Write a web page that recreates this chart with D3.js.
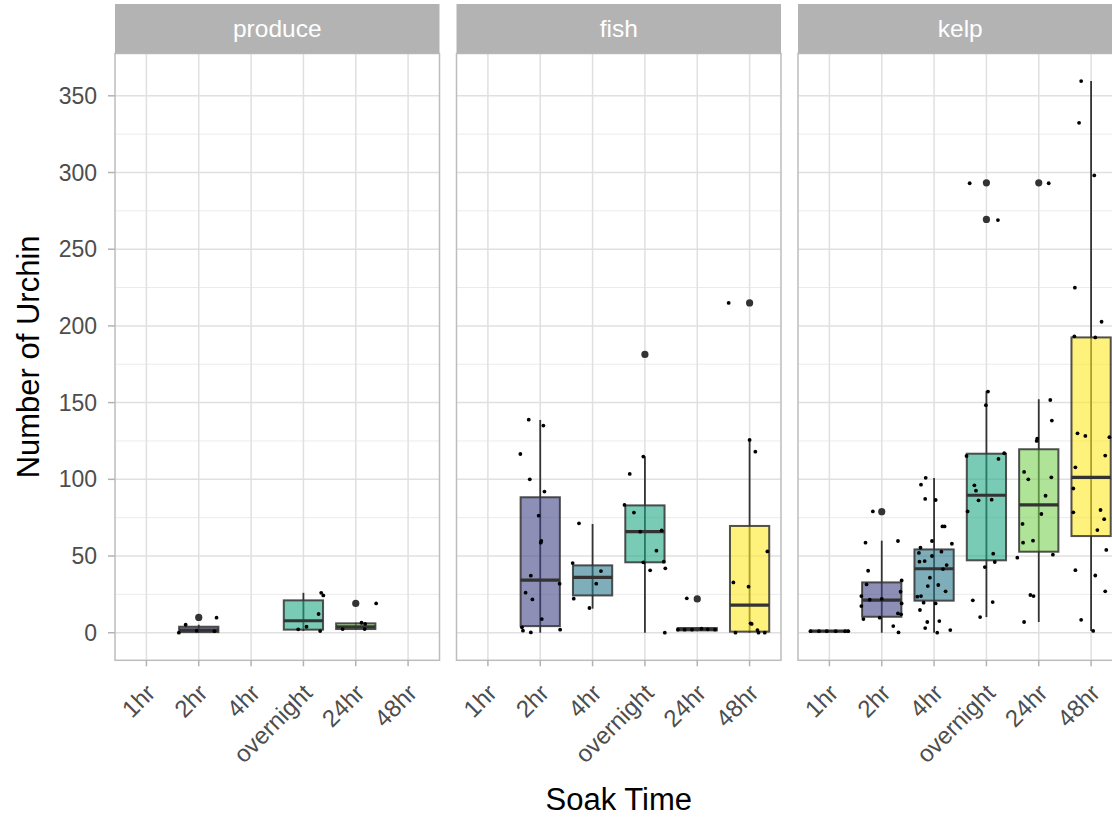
<!DOCTYPE html>
<html>
<head>
<meta charset="utf-8">
<script src="https://cdn.jsdelivr.net/npm/d3@7"></script>
<style>
  html, body { margin: 0; padding: 0; background: #fff; }
  svg { display: block; font-family: "Liberation Sans", Arial, sans-serif; }
</style>
</head>
<body>
<svg id="chart" width="1112" height="818"></svg>
<script>
// Facets and soak-time categories
const baits = ["produce", "fish", "kelp"];
const soakTimes = ["1hr", "2hr", "4hr", "overnight", "24hr", "48hr"];
const yTicks = [0, 50, 100, 150, 200, 250, 300, 350];
const yMinorTicks = [25, 75, 125, 175, 225, 275, 325];

// Box summaries: [time, lower whisker, q1, median, q3, upper whisker, outliers]
const produceBoxes = [
  ["2hr", 0, 0.4, 1.7, 3.9, 5.2, [10]],
  ["overnight", 1.1, 2, 7.8, 21.1, 26, []],
  ["24hr", 2.2, 2.4, 3.9, 6.1, 6.5, [19.1]]
];
const fishBoxes = [
  ["2hr", 0, 4.3, 34.3, 88.3, 138.7, []],
  ["4hr", 15.7, 24.3, 36.1, 43.9, 70.9, []],
  ["overnight", 0, 45.9, 65.9, 83, 114.8, [181.4]],
  ["24hr", 1, 1.5, 2.4, 3, 3.3, [22]],
  ["48hr", 0, 0.7, 18, 69.6, 125.7, [215]]
];
const kelpBoxes = [
  ["1hr", 1, 1, 1, 1, 1, []],
  ["2hr", 0, 10.4, 21.3, 32.8, 60, [78.9]],
  ["4hr", 0, 20.9, 41.7, 54.3, 100.9, []],
  ["overnight", 10.2, 47.2, 89.6, 116.7, 157.6, [293.3, 269.4]],
  ["24hr", 7, 52.8, 83.3, 119.6, 152.2, [293.3]],
  ["48hr", 1.1, 63, 101.3, 192.5, 359.6, []]
];

// Individual observations: [time, urchin count, jitter (category units)]
const producePoints = [
  ["2hr", 5.2, -0.25], ["2hr", 0, -0.38], ["2hr", 1.3, -0.04], ["2hr", 1, 0.3], ["2hr", 9.8, 0.34],
  ["overnight", 26, 0.34], ["overnight", 24.3, 0.38], ["overnight", 12.2, 0.29],
  ["overnight", 3.9, 0.06], ["overnight", 2.2, -0.1], ["overnight", 1.1, 0.32],
  ["24hr", 2.4, -0.25], ["24hr", 6.5, 0.11], ["24hr", 5.7, 0.18], ["24hr", 2.4, 0.17], ["24hr", 19.1, 0.39]
];
const fishPoints = [
  ["2hr", 138.9, -0.22], ["2hr", 135, 0.06], ["2hr", 116.5, -0.38], ["2hr", 100, -0.2],
  ["2hr", 92, 0.08], ["2hr", 76.3, -0.03], ["2hr", 59.8, 0.02], ["2hr", 58.7, 0.01],
  ["2hr", 37.2, -0.18], ["2hr", 32, 0.37], ["2hr", 26.1, -0.28], ["2hr", 21.7, -0.15],
  ["2hr", 8.9, 0.03], ["2hr", 3.5, -0.35], ["2hr", 1.3, -0.33], ["2hr", 0.2, -0.18], ["2hr", 2, 0.38],
  ["4hr", 71.3, -0.26], ["4hr", 45.4, -0.38], ["4hr", 40.2, 0.16], ["4hr", 32, 0.07],
  ["4hr", 22.2, -0.36], ["4hr", 16.1, -0.06],
  ["overnight", 103.5, -0.29], ["overnight", 114.8, -0.03], ["overnight", 83.3, -0.39],
  ["overnight", 78.3, -0.21], ["overnight", 65.9, -0.09], ["overnight", 66.7, 0.32],
  ["overnight", 53.5, 0.22], ["overnight", 45.9, -0.03], ["overnight", 46.3, 0.36],
  ["overnight", 40.7, 0.1], ["overnight", 42, 0.39], ["overnight", 0, 0.38],
  ["24hr", 22.4, -0.2], ["24hr", 2, -0.37], ["24hr", 2, -0.24], ["24hr", 2, -0.1],
  ["24hr", 2.6, 0.08], ["24hr", 2.2, 0.2], ["24hr", 2, 0.34],
  ["48hr", 215, -0.4], ["48hr", 125.7, 0], ["48hr", 118, 0.11], ["48hr", 53, 0.34],
  ["48hr", 32.8, -0.31], ["48hr", 30, -0.02], ["48hr", 6.1, 0.02], ["48hr", 5.7, 0.04],
  ["48hr", 1.7, 0.15], ["48hr", 0, 0.17], ["48hr", 0, -0.27], ["48hr", 0, 0.29]
];
const kelpPoints = [
  ["1hr", 1, -0.36], ["1hr", 1, -0.2], ["1hr", 1, -0.05], ["1hr", 1, 0.12], ["1hr", 1, 0.3], ["1hr", 1, 0.36],
  ["2hr", 79.1, -0.17], ["2hr", 58.7, -0.31], ["2hr", 59.8, 0.31], ["2hr", 40.4, -0.26],
  ["2hr", 34.1, 0.38], ["2hr", 31.5, -0.29], ["2hr", 26.7, 0.36], ["2hr", 23.9, -0.39],
  ["2hr", 21.5, -0.23], ["2hr", 22, 0], ["2hr", 17.4, -0.39], ["2hr", 19.1, 0.38],
  ["2hr", 8.9, -0.35], ["2hr", 9.8, -0.04], ["2hr", 12.6, 0.31], ["2hr", 12, 0.37],
  ["2hr", 4.3, 0.22], ["2hr", 0.2, 0.32],
  ["4hr", 101, -0.16], ["4hr", 96.5, -0.25], ["4hr", 87.2, -0.17], ["4hr", 86.5, 0.03],
  ["4hr", 69.3, 0.16], ["4hr", 69.3, 0.2], ["4hr", 59.8, -0.04], ["4hr", 58, 0.34],
  ["4hr", 55.4, -0.26], ["4hr", 52.8, 0.14], ["4hr", 52, -0.29], ["4hr", 46.7, -0.18],
  ["4hr", 50, -0.04], ["4hr", 46.3, -0.28], ["4hr", 41.5, 0.17], ["4hr", 44.1, 0.24],
  ["4hr", 35.9, -0.08], ["4hr", 30.4, -0.12], ["4hr", 31.1, 0.08], ["4hr", 27, 0.22],
  ["4hr", 23.5, -0.32], ["4hr", 23.9, -0.25], ["4hr", 19.6, -0.2], ["4hr", 19.1, 0.03],
  ["4hr", 14.8, -0.27], ["4hr", 7.6, 0.1], ["4hr", 7, -0.13], ["4hr", 3, -0.17],
  ["4hr", 1.7, 0.31], ["4hr", 0, 0.06],
  ["overnight", 293, -0.32], ["overnight", 269, 0.22],
  ["overnight", 157.2, 0.03], ["overnight", 148.3, -0.01], ["overnight", 115.2, -0.38],
  ["overnight", 113.3, 0.23], ["overnight", 117, 0.34], ["overnight", 96.1, -0.23],
  ["overnight", 92.6, -0.2], ["overnight", 86.3, -0.15], ["overnight", 86.7, 0.1],
  ["overnight", 79.1, -0.36], ["overnight", 51.5, 0.13], ["overnight", 46.1, 0.16],
  ["overnight", 42.8, -0.03], ["overnight", 21.1, -0.26], ["overnight", 20, 0.12],
  ["overnight", 10.2, -0.12],
  ["24hr", 293, 0.19], ["24hr", 151.7, 0.22], ["24hr", 138.3, 0.25], ["24hr", 126.5, -0.03],
  ["24hr", 125, -0.04], ["24hr", 104.8, -0.28], ["24hr", 100, -0.2], ["24hr", 101.3, 0.24],
  ["24hr", 89.3, 0.13], ["24hr", 77.4, 0.05], ["24hr", 70.9, -0.31], ["24hr", 60, -0.11],
  ["24hr", 58.7, -0.3], ["24hr", 50.9, 0.27], ["24hr", 48.9, -0.41], ["24hr", 24.6, -0.16],
  ["24hr", 23.9, -0.1], ["24hr", 7, -0.28],
  ["48hr", 359.6, -0.19], ["48hr", 332.4, -0.23], ["48hr", 298.1, 0.06], ["48hr", 224.9, -0.31],
  ["48hr", 202.7, 0.2], ["48hr", 193.2, -0.32], ["48hr", 192.5, 0.08], ["48hr", 130, -0.26],
  ["48hr", 128.3, -0.11], ["48hr", 127.5, 0.35], ["48hr", 115.5, 0.27], ["48hr", 107.8, -0.3],
  ["48hr", 94, -0.34], ["48hr", 78.5, -0.34], ["48hr", 80, 0.18], ["48hr", 74, 0.25],
  ["48hr", 66.9, 0.12], ["48hr", 54, 0.29], ["48hr", 40.8, -0.3], ["48hr", 37.3, 0.08],
  ["48hr", 27, 0.27], ["48hr", 8.4, -0.19], ["48hr", 1.2, 0.04]
];

const boxesByBait = { produce: produceBoxes, fish: fishBoxes, kelp: kelpBoxes };
const pointsByBait = { produce: producePoints, fish: fishPoints, kelp: kelpPoints };

// ---- layout ----
const svg = d3.select("#chart");
const panelLeft = 115, panelW = 324.5, panelGap = 17;
const stripTop = 4, stripH = 49.5;
const panelTop = stripTop + stripH, panelBottom = 660.3;

// viridis (6 levels), drawn at alpha 0.6
const fillScale = d3.scaleOrdinal()
  .domain(soakTimes)
  .range(["#440154", "#414487", "#2A788E", "#22A884", "#7AD151", "#FDE725"]);

// y domain: data range with 5% expansion on each side
const allVals = [];
baits.forEach(b => {
  boxesByBait[b].forEach(d => { allVals.push(d[1], d[5], ...d[6]); });
  pointsByBait[b].forEach(d => allVals.push(d[1]));
});
const [vMin, vMax] = d3.extent(allVals);
const pad = (vMax - vMin) * 0.05;
const y = d3.scaleLinear().domain([vMin - pad, vMax + pad]).range([panelBottom, panelTop]);

const x = d3.scalePoint().domain(soakTimes).range([0, panelW]).padding(0.6);
const step = x.step();
const boxW = step * 0.75;

const panelX = d3.scaleBand().domain(baits)
  .range([panelLeft, panelLeft + 3 * panelW + 2 * panelGap])
  .paddingInner(panelGap / (panelW + panelGap));

baits.forEach(bait => {
  const px = panelX(bait);
  const g = svg.append("g").attr("transform", `translate(${px},0)`);

  // panel background + grid
  g.append("rect").attr("x", 0).attr("y", panelTop).attr("width", panelW)
    .attr("height", panelBottom - panelTop).attr("fill", "#fff");

  g.selectAll(".minor").data(yMinorTicks).join("line")
    .attr("x1", 0).attr("x2", panelW)
    .attr("y1", d => y(d)).attr("y2", d => y(d))
    .attr("stroke", "#ebebeb").attr("stroke-width", 1);
  g.selectAll(".majorY").data(yTicks).join("line")
    .attr("x1", 0).attr("x2", panelW)
    .attr("y1", d => y(d)).attr("y2", d => y(d))
    .attr("stroke", "#e0e0e0").attr("stroke-width", 1.5);
  g.selectAll(".majorX").data(soakTimes).join("line")
    .attr("x1", d => x(d)).attr("x2", d => x(d))
    .attr("y1", panelTop).attr("y2", panelBottom)
    .attr("stroke", "#e0e0e0").attr("stroke-width", 1.5);

  const boxes = boxesByBait[bait];
  const pts = pointsByBait[bait];

  // whiskers
  g.selectAll(".whisker").data(boxes).join("line")
    .attr("x1", d => x(d[0])).attr("x2", d => x(d[0]))
    .attr("y1", d => y(d[1])).attr("y2", d => y(d[5]))
    .attr("stroke", "#333").attr("stroke-width", 1.8);

  // boxes
  g.selectAll(".box").data(boxes).join("rect")
    .attr("x", d => x(d[0]) - boxW / 2).attr("width", boxW)
    .attr("y", d => y(d[4])).attr("height", d => Math.max(0.01, y(d[2]) - y(d[4])))
    .attr("fill", d => fillScale(d[0])).attr("fill-opacity", 0.6)
    .attr("stroke", "#333").attr("stroke-opacity", 0.85).attr("stroke-width", 2);

  // medians
  g.selectAll(".median").data(boxes).join("line")
    .attr("x1", d => x(d[0]) - boxW / 2).attr("x2", d => x(d[0]) + boxW / 2)
    .attr("y1", d => y(d[3])).attr("y2", d => y(d[3]))
    .attr("stroke", "#333").attr("stroke-width", 3.2);

  // outliers
  const outs = boxes.flatMap(d => d[6].map(v => [d[0], v]));
  g.selectAll(".outlier").data(outs).join("circle")
    .attr("cx", d => x(d[0])).attr("cy", d => y(d[1])).attr("r", 3.6)
    .attr("fill", "#333");

  // jittered observations
  g.selectAll(".pt").data(pts).join("circle")
    .attr("cx", d => x(d[0]) + d[2] * step).attr("cy", d => y(d[1])).attr("r", 1.9)
    .attr("fill", "#000");

  // panel border
  g.append("rect").attr("x", 0).attr("y", panelTop).attr("width", panelW)
    .attr("height", panelBottom - panelTop).attr("fill", "none")
    .attr("stroke", "#bdbdbd").attr("stroke-width", 1.5);

  // strip
  g.append("rect").attr("x", 0).attr("y", stripTop).attr("width", panelW)
    .attr("height", stripH).attr("fill", "#b3b3b3");
  g.append("text").attr("x", panelW / 2).attr("y", stripTop + stripH / 2)
    .attr("dy", "0.35em").attr("text-anchor", "middle")
    .attr("fill", "#fff").attr("font-size", 24.5).text(bait);

  // x axis ticks and labels
  g.selectAll(".xtick").data(soakTimes).join("line")
    .attr("x1", d => x(d)).attr("x2", d => x(d))
    .attr("y1", panelBottom).attr("y2", panelBottom + 6)
    .attr("stroke", "#b3b3b3").attr("stroke-width", 1.5);
  g.selectAll(".xlab").data(soakTimes).join("text")
    .attr("transform", d => `translate(${x(d) - 2},${panelBottom + 22}) rotate(-45)`)
    .attr("text-anchor", "end").attr("dy", "0.72em")
    .attr("fill", "#4d4d4d").attr("font-size", 24).text(d => d);
});

// y axis (left panel only)
const yAxisG = svg.append("g");
yAxisG.selectAll("line").data(yTicks).join("line")
  .attr("x1", panelLeft - 7).attr("x2", panelLeft)
  .attr("y1", d => y(d)).attr("y2", d => y(d))
  .attr("stroke", "#b3b3b3").attr("stroke-width", 1.5);
yAxisG.selectAll("text").data(yTicks).join("text")
  .attr("x", panelLeft - 18).attr("y", d => y(d)).attr("dy", "0.35em")
  .attr("text-anchor", "end").attr("fill", "#4d4d4d").attr("font-size", 23)
  .text(d => d);

// axis titles
svg.append("text")
  .attr("transform", `translate(39,${(panelTop + panelBottom) / 2}) rotate(-90)`)
  .attr("text-anchor", "middle").attr("font-size", 31).attr("fill", "#000")
  .text("Number of Urchin");
svg.append("text")
  .attr("x", (panelLeft + panelLeft + 3 * panelW + 2 * panelGap) / 2).attr("y", 810)
  .attr("text-anchor", "middle").attr("font-size", 31).attr("fill", "#000")
  .text("Soak Time");
</script>
</body>
</html>
